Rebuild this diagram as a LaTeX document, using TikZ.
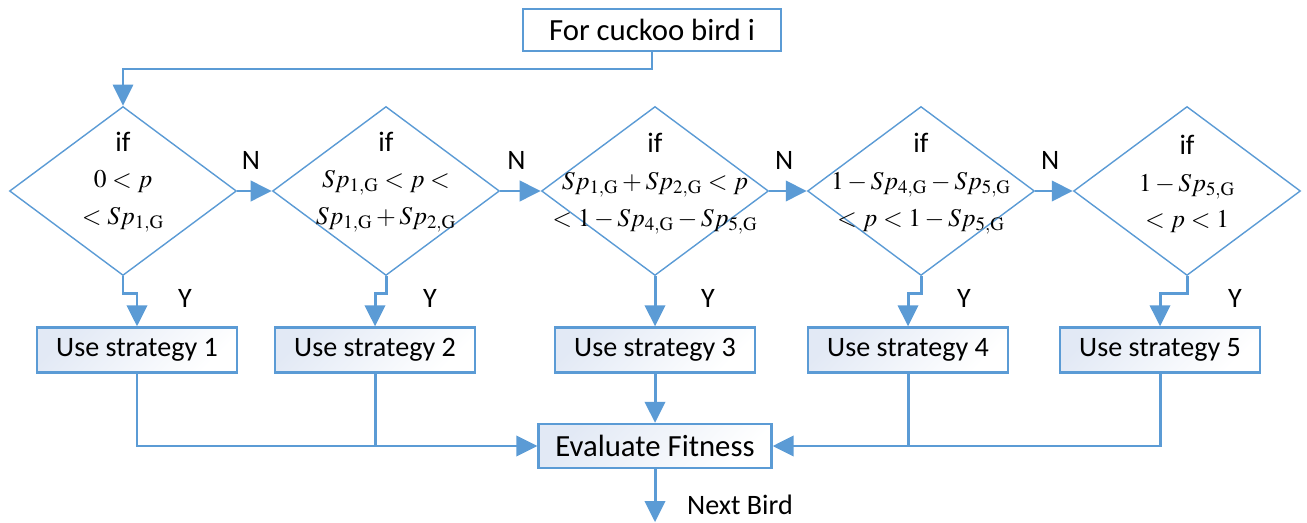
\documentclass[tikz,border=0pt]{standalone}
\usepackage{mathptmx}
\usepackage[no-math]{fontspec}
\setmainfont{Carlito}
\usetikzlibrary{shapes.geometric,arrows.meta}
\definecolor{flowblue}{HTML}{5B9BD5}
\definecolor{boxtint}{HTML}{E2E9F5}
\newcommand{\Spg}[1]{Sp_{#1,\mathrm{G}}}
\begin{document}
\begin{tikzpicture}[x=0.02cm,y=-0.02cm,
  decision/.style={diamond,draw=flowblue,line width=0.8pt,minimum width=4.54cm,minimum height=3.38cm,inner sep=0pt},
  cond/.style={align=center,font=\fontsize{14.5}{21}\selectfont},
  stratbox/.style={draw=flowblue,line width=1.3pt,top color=boxtint,bottom color=white,shading angle=45,minimum width=4cm,minimum height=0.9cm,font=\fontsize{16}{19}\selectfont},
  flowline/.style={draw=flowblue,line width=1.7pt},
  flow/.style={flowline,-{Triangle[length=12pt,width=11.5pt]}},
  tag/.style={font=\fontsize{16}{19}\selectfont}]
\useasboundingbox (0,0) rectangle (1307,523);
\node[draw=flowblue,line width=1.2pt,fill=white,minimum width=5.16cm,minimum height=0.84cm,font=\fontsize{17.5}{20}\selectfont] (start) at (652,30) {For cuckoo bird i};
\foreach \i/\x in {1/123,2/386,3/655,4/921,5/1187}
	\node[decision] (d\i) at (\x,191) {};
\node[cond] (c1) at (123,182) {{\fontsize{16}{21}\selectfont if}\\$0<p$\\$<\Spg{1}$};
\node[cond] (c2) at (386,182) {{\fontsize{16}{21}\selectfont if}\\$\Spg{1}<p<$\\$\Spg{1}+\Spg{2}$};
\node[cond] (c3) at (655,184) {{\fontsize{16}{21}\selectfont if}\\$\Spg{1}+\Spg{2}<p$\\$<1-\Spg{4}-\Spg{5}$};
\node[cond] (c4) at (921,184) {{\fontsize{16}{21}\selectfont if}\\$1-\Spg{4}-\Spg{5}$\\$<p<1-\Spg{5}$};
\node[cond] (c5) at (1187,184) {{\fontsize{16}{21}\selectfont if}\\$1-\Spg{5}$\\$<p<1$};
\foreach \i/\x in {1/137,2/375,3/655,4/908,5/1160}
	\node[stratbox] (s\i) at (\x,350) {Use strategy \i};
\node[stratbox,minimum width=4.66cm,minimum height=0.88cm,font=\fontsize{17.5}{20}\selectfont] (eval) at (655,446) {Evaluate Fitness};
\draw[flow,line width=1.2pt] (start.south) -- ++(0,17) -| (d1.north);
\foreach \i/\j in {1/2,2/3,3/4,4/5}
	\draw[flow] (d\i.east) -- (d\j.west) node[tag,pos=0.4,yshift=0.62cm] {N};
\foreach \i/\lx in {1/185,2/430,3/708,4/964,5/1235} {
	\draw[flow] (d\i.south) -- ++(0,17) -| (s\i.north);
	\node[tag] (y\i) at (\lx,298) {Y};
}
\draw[flow] (s1.south) |- (eval.west);
\draw[flowline] (s2.south) -- (s2.south |- eval.west);
\draw[flow] (s3.south) -- (eval.north);
\draw[flow] (s5.south) |- (eval.east);
\draw[flowline] (s4.south) -- (s4.south |- eval.east);
\draw[flow] (eval.south) -- ++(0,53) coordinate (out);
\node[tag] (next) at (740,505) {Next Bird};
\end{tikzpicture}
\end{document}
